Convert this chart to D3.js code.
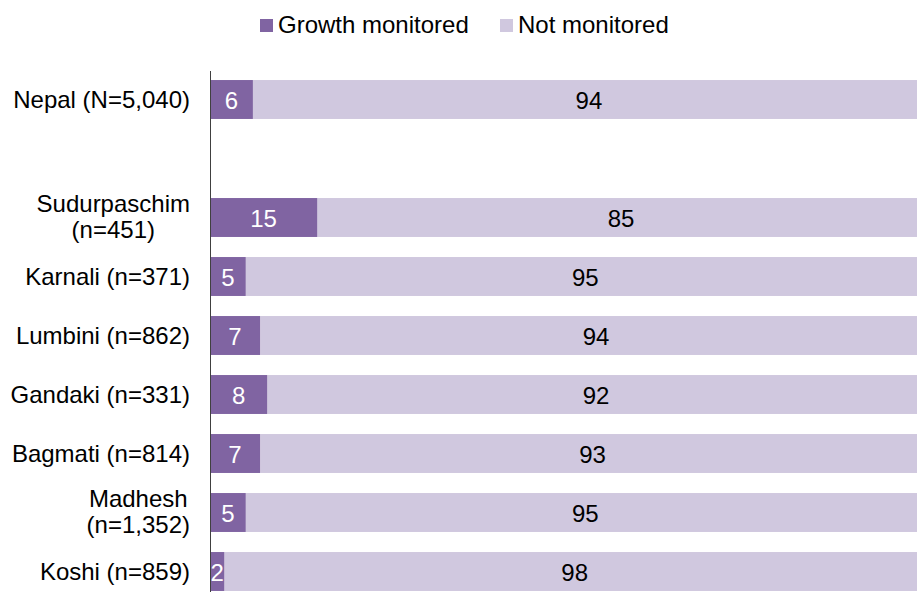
<!DOCTYPE html>
<html>
<head>
<meta charset="utf-8">
<script src="https://cdn.jsdelivr.net/npm/d3@7"></script>
<style>
  body { margin: 0; background: #fff; }
  text { font-family: Arial, "Liberation Sans", sans-serif; }
</style>
</head>
<body>
<svg width="917" height="592"></svg>
<script>
var WIDTH = 917
var HEIGHT = 592

// rows top to bottom; "" is the empty slot between Nepal and the provinces
var categories = ["Nepal (N=5,040)", "", "Sudurpaschim|(n=451)", "Karnali (n=371)", "Lumbini (n=862)",
    "Gandaki (n=331)", "Bagmati (n=814)", "Madhesh|(n=1,352)", "Koshi (n=859)"];
var monitored = [6, null, 15, 5, 7, 8, 7, 5, 2];
var notMonitored = [94, null, 85, 95, 94, 92, 93, 95, 98];
var seriesNames = ["Growth monitored", "Not monitored"];
var colors = ["#8064a2", "#d0c8df"];

var svg = d3.select("svg");

// plot runs past the right edge of the picture, as in the source
var x = d3.scaleLinear()
    .domain([0, 100])
    .range([210, 925]);

var y = d3.scaleBand()
    .domain(d3.range(categories.length))
    .range([70, 601])
    .paddingInner(0.34)
    .paddingOuter(0.17);

var rows = categories.map(function (c, i) {
    return { label: c, a: monitored[i], b: notMonitored[i], i: i };
}).filter(function (d) { return d.a !== null; });

// light segment first so the dark one sits on top
svg.selectAll("rect.not")
    .data(rows)
    .enter().append("rect")
    .attr("class", "not")
    .attr("x", function (d) { return x(d.a); })
    .attr("y", function (d) { return y(d.i); })
    .attr("width", function (d) { return x(d.a + d.b) - x(d.a); })
    .attr("height", y.bandwidth())
    .style("fill", colors[1]);

svg.selectAll("rect.mon")
    .data(rows)
    .enter().append("rect")
    .attr("class", "mon")
    .attr("x", x(0))
    .attr("y", function (d) { return y(d.i); })
    .attr("width", function (d) { return x(d.a) - x(0); })
    .attr("height", y.bandwidth())
    .style("fill", colors[0]);

// value labels
svg.selectAll("text.vmon")
    .data(rows)
    .enter().append("text")
    .attr("x", function (d) { return (x(0) + x(d.a)) / 2; })
    .attr("y", function (d) { return y(d.i) + y.bandwidth() / 2 + 9; })
    .attr("text-anchor", "middle")
    .style("font-size", "24px")
    .style("fill", "white")
    .text(function (d) { return d.a; });

svg.selectAll("text.vnot")
    .data(rows)
    .enter().append("text")
    .attr("x", function (d) { return (x(d.a) + x(d.a + d.b)) / 2; })
    .attr("y", function (d) { return y(d.i) + y.bandwidth() / 2 + 9; })
    .attr("text-anchor", "middle")
    .style("font-size", "24px")
    .style("fill", "#000")
    .text(function (d) { return d.b; });

// category labels, two-line ones centred inside a right-aligned block
rows.forEach(function (d) {
    var lines = d.label.split("|");
    var cy = y(d.i) + y.bandwidth() / 2;
    var t = svg.append("text")
        .style("font-size", "24px")
        .style("fill", "#000");
    if (lines.length == 1) {
        t.attr("x", 190).attr("y", cy + 8.5).attr("text-anchor", "end").text(lines[0]);
        return;
    }
    var spans = lines.map(function (l, k) {
        return t.append("tspan").attr("y", cy + 7.5 + (k - 0.5) * 26).text(l);
    });
    var maxW = d3.max(spans, function (s) { return s.node().getComputedTextLength(); });
    spans.forEach(function (s) {
        s.attr("x", 190 - maxW / 2).attr("text-anchor", "middle");
    });
});

// axis line
svg.append("line")
    .attr("x1", 210.5).attr("x2", 210.5)
    .attr("y1", 71).attr("y2", HEIGHT)
    .style("stroke", "#404040")
    .style("stroke-width", 1);

// legend
var legendX = [260, 500];
seriesNames.forEach(function (name, k) {
    svg.append("rect")
        .attr("x", legendX[k]).attr("y", 19)
        .attr("width", 13).attr("height", 13)
        .style("fill", colors[k]);
    svg.append("text")
        .attr("x", legendX[k] + 18).attr("y", 33)
        .style("font-size", "24px")
        .text(name);
});
</script>
</body>
</html>
